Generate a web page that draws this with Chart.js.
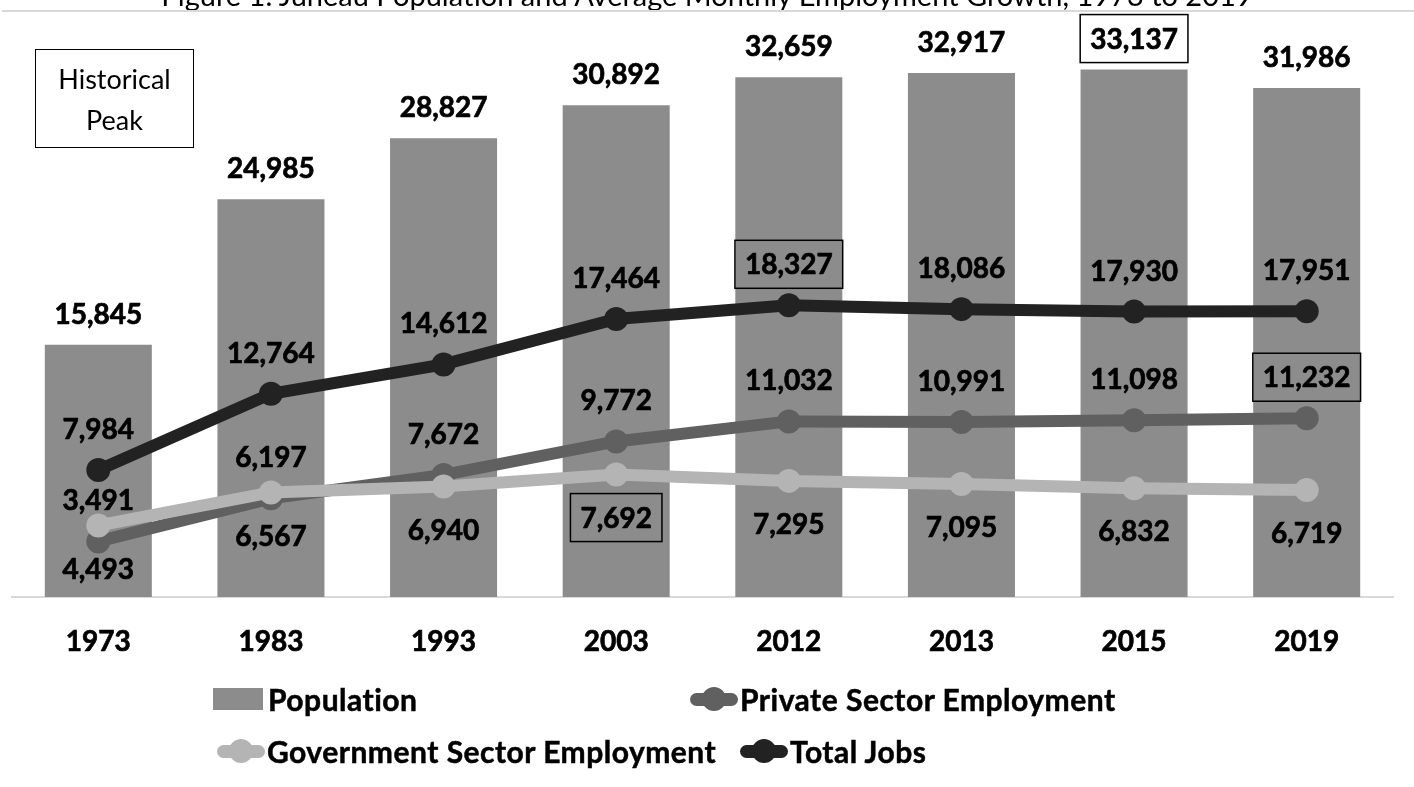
<!DOCTYPE html>
<html>
<head>
<meta charset="utf-8">
<title>Juneau Population and Employment</title>
<script src="https://cdn.jsdelivr.net/npm/chart.js@4"></script>
<style>
  body { margin: 0; background: #fff; font-family: Lato, sans-serif; }
  #wrap { position: relative; width: 1414px; height: 787px; overflow: hidden; }
  #title { position: absolute; left: 0; top: -23px; width: 1414px; text-align: center;
           font-size: 29px; line-height: 35px; color: #000; white-space: nowrap; }
  #rule { position: absolute; left: 2px; right: 0; top: 10px; height: 2px; background: #d9d9d9; }
  #peak { position: absolute; left: 35px; top: 49px; width: 157px; height: 97px;
          border: 1.5px solid #000; font-size: 27px; line-height: 41px; text-align: center;
          display: flex; flex-direction: column; justify-content: center; }
  .lg { position: absolute; display: flex; align-items: center; font-weight: bold; font-size: 30px;
        letter-spacing: 0.5px; color: #000; white-space: nowrap; -webkit-text-stroke: 0.5px #000; }
  .box { width: 50px; height: 22px; margin-right: 5px; }
  .ln { position: relative; width: 48px; height: 13px; border-radius: 7px; margin-right: 2px; }
  .ln::after { content: ''; position: absolute; left: 12px; top: -6px; width: 24px; height: 24px;
               border-radius: 50%; background: inherit; }
  canvas { position: absolute; left: 0; top: 0; }
</style>
</head>
<body>
<div id="wrap">
  <canvas id="chart" width="1414" height="787"></canvas>
  <div id="title">Figure 1. Juneau Population and Average Monthly Employment Growth, 1973 to 2019</div>
  <div id="rule"></div>
  <div id="peak"><div>Historical</div><div>Peak</div></div>
  <div class="lg" style="left:213px; top:681px;"><span class="box" style="background:#8c8c8c"></span>Population</div>
  <div class="lg" style="left:690px; top:681px;"><span class="ln" style="background:#606060"></span>Private Sector Employment</div>
  <div class="lg" style="left:217px; top:733px;"><span class="ln" style="background:#b4b4b4"></span>Government Sector Employment</div>
  <div class="lg" style="left:740px; top:733px;"><span class="ln" style="background:#222222"></span>Total Jobs</div>
</div>
<script>
const years = ['1973', '1983', '1993', '2003', '2012', '2013', '2015', '2019'];
const population = [15845, 24985, 28827, 30892, 32659, 32917, 33137, 31986];
const privateJobs = [3491, 6197, 7672, 9772, 11032, 10991, 11098, 11232];
const govJobs = [4493, 6567, 6940, 7692, 7295, 7095, 6832, 6719];
const totalJobs = [7984, 12764, 14612, 17464, 18327, 18086, 17930, 17951];
// index of the boxed "historical peak" value in each series
const peakIndex = { population: 6, private: 7, gov: 3, total: 4 };

// no datalabels plugin available offline, so draw the numbers by hand
const valueLabels = {
  id: 'valueLabels',
  afterDatasetsDraw(chart) {
    const ctx = chart.ctx;
    ctx.save();
    ctx.font = 'bold 28px Lato';
    ctx.textAlign = 'center';
    ctx.textBaseline = 'middle';
    ctx.fillStyle = '#000';
    ctx.strokeStyle = '#000';
    chart.data.datasets.forEach((ds, i) => {
      const meta = chart.getDatasetMeta(i);
      meta.data.forEach((el, j) => {
        const txt = ds.data[j].toLocaleString('en-US');
        const y = el.y + ds.labelOffset;
        ctx.fillText(txt, el.x, y);
        ctx.lineWidth = 0.7; // a little heavier, closer to the original bold face
        ctx.strokeText(txt, el.x, y);
        if (j === ds.peak) {
          const w = ctx.measureText(txt).width + 20;
          ctx.lineWidth = 1.5;
          ctx.strokeRect(el.x - w / 2, y - 25, w, 48);
        }
      });
    });
    ctx.restore();
  }
};

function lineSet(label, data, color, order, offset, peak) {
  return {
    type: 'line', label: label, data: data, order: order,
    borderColor: color, backgroundColor: color,
    borderWidth: 12, pointRadius: 12, pointHoverRadius: 12,
    pointBackgroundColor: color, pointBorderWidth: 0,
    tension: 0, labelOffset: offset, peak: peak
  };
}

function setupChart() {
  const ctx = document.getElementById('chart').getContext('2d');
  new Chart(ctx, {
    type: 'bar',
    data: {
      labels: years,
      datasets: [
        {
          label: 'Population', data: population, order: 4,
          backgroundColor: '#8c8c8c', barPercentage: 0.62, categoryPercentage: 1,
          labelOffset: -30, peak: peakIndex.population
        },
        lineSet('Private Sector Employment', privateJobs, '#606060', 3, -40, peakIndex.private),
        lineSet('Government Sector Employment', govJobs, '#b4b4b4', 2, 44, peakIndex.gov),
        lineSet('Total Jobs', totalJobs, '#222222', 1, -40, peakIndex.total)
      ]
    },
    options: {
      responsive: false,
      animation: false,
      layout: { padding: { left: 12, right: 21, top: 24, bottom: 0 } },
      plugins: { legend: { display: false }, tooltip: { enabled: false }, title: { display: false } },
      scales: {
        x: {
          grid: { display: false, drawTicks: false },
          border: { display: true, color: '#d9d9d9', width: 2 },
          ticks: {
            color: '#000', font: { family: 'Lato', size: 28, weight: 'bold' }, padding: 28,
            textStrokeColor: '#000', textStrokeWidth: 0.7
          },
          afterFit: (scale) => { scale.height = 190; }
        },
        y: { display: false, min: 0, max: 36000 }
      }
    },
    plugins: [valueLabels]
  });
}

Promise.all([
  document.fonts.load('bold 28px Lato'),
  document.fonts.load('27px Lato')
]).then(setupChart, setupChart);
</script>
</body>
</html>
